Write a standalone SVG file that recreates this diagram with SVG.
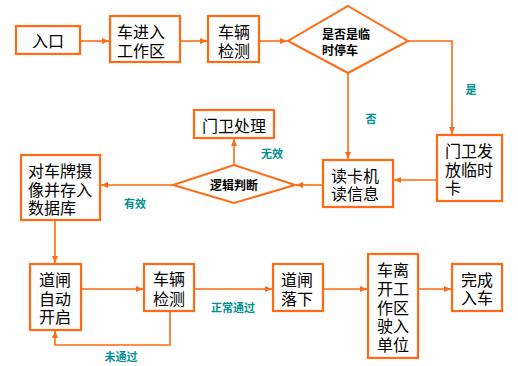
<svg xmlns="http://www.w3.org/2000/svg" width="518" height="366" viewBox="0 0 518 366">
<defs>
<style>
.box{fill:#fff;stroke:#FF6A13;stroke-width:2.2}
.dia{fill:#fff;stroke:#FF6A13;stroke-width:2}
.ln{fill:none;stroke:#FF6A13;stroke-width:1.6}
.t{font-family:"Noto Sans CJK SC","Liberation Sans",sans-serif;font-size:16px;fill:#000;dominant-baseline:central}
.d{font-family:"Noto Sans CJK SC","Liberation Sans",sans-serif;font-size:12px;font-weight:bold;fill:#000;dominant-baseline:central}
.l{font-family:"Noto Sans CJK SC","Liberation Sans",sans-serif;font-size:11px;font-weight:bold;fill:#009090;dominant-baseline:central;text-anchor:middle}
.c{text-anchor:middle}
</style>
<marker id="ah" markerWidth="8" markerHeight="8" refX="7" refY="4" orient="auto" markerUnits="userSpaceOnUse">
<path d="M0,1 L7,4 L0,7 Z" fill="#FF6A13"/>
</marker>
</defs>
<rect width="518" height="366" fill="#fff"/>
<g id="connectors">
<path class="ln" d="M80,41 H109" marker-end="url(#ah)"/>
<path class="ln" d="M180,41 H207" marker-end="url(#ah)"/>
<path class="ln" d="M259,41 H287" marker-end="url(#ah)"/>
<path class="ln" d="M408,41 H452 V134" marker-end="url(#ah)"/>
<path class="ln" d="M348,73 V159" marker-end="url(#ah)"/>
<path class="ln" d="M437,180 H394" marker-end="url(#ah)"/>
<path class="ln" d="M323,185 H296" marker-end="url(#ah)"/>
<path class="ln" d="M234,165 V139" marker-end="url(#ah)"/>
<path class="ln" d="M173,185 H101" marker-end="url(#ah)"/>
<path class="ln" d="M55,220 V263" marker-end="url(#ah)"/>
<path class="ln" d="M81,289 H143" marker-end="url(#ah)"/>
<path class="ln" d="M170,311 V345 H55 V331" marker-end="url(#ah)"/>
<path class="ln" d="M194,289 H272" marker-end="url(#ah)"/>
<path class="ln" d="M323,289 H367" marker-end="url(#ah)"/>
<path class="ln" d="M418,289 H451" marker-end="url(#ah)"/>
<text class="l" x="471" y="89">是</text>
<text class="l" x="371" y="118">否</text>
<text class="l" x="272" y="153">无效</text>
<text class="l" x="135" y="203">有效</text>
<text class="l" x="233" y="307">正常通过</text>
<text class="l" x="121" y="356">未通过</text>
</g>
<g id="n1"><rect class="box" x="16" y="26" width="64" height="28"/><text class="t c" x="48" y="40">入口</text></g>
<g id="n2"><rect class="box" x="110" y="16" width="70" height="46"/><text class="t" x="117" y="31">车进入<tspan x="117" dy="19">工作区</tspan></text></g>
<g id="n3"><rect class="box" x="208" y="16" width="51" height="46"/><text class="t c" x="234" y="31">车辆<tspan x="234" dy="19">检测</tspan></text></g>
<g id="n4"><polygon class="dia" points="348,6 408,41 348,73 288,41"/><text class="d" x="322" y="33">是否是临<tspan x="322" dy="16">时停车</tspan></text></g>
<g id="n5"><rect class="box" x="437" y="135" width="65" height="66"/><text class="t" x="445" y="150">门卫发<tspan x="445" dy="18.5">放临时</tspan><tspan x="445" dy="18.5">卡</tspan></text></g>
<g id="n6"><rect class="box" x="323" y="160" width="70" height="47"/><text class="t" x="331" y="175">读卡机<tspan x="331" dy="18">读信息</tspan></text></g>
<g id="n7"><polygon class="dia" points="234,165 295,185 234,203 173,185"/><text class="d c" x="234" y="184">逻辑判断</text></g>
<g id="n8"><rect class="box" x="194" y="110" width="80" height="28"/><text class="t c" x="234" y="125">门卫处理</text></g>
<g id="n9"><rect class="box" x="21" y="155" width="79" height="65"/><text class="t" x="28" y="170">对车牌摄<tspan x="28" dy="18.5">像并存入</tspan><tspan x="28" dy="18.5">数据库</tspan></text></g>
<g id="n10"><rect class="box" x="30" y="264" width="51" height="66"/><text class="t c" x="55" y="279">道闸<tspan x="55" dy="18.5">自动</tspan><tspan x="55" dy="18.5">开启</tspan></text></g>
<g id="n11"><rect class="box" x="144" y="264" width="50" height="47"/><text class="t c" x="169" y="278">车辆<tspan x="169" dy="20">检测</tspan></text></g>
<g id="n12"><rect class="box" x="273" y="264" width="50" height="47"/><text class="t" x="281" y="279">道闸<tspan x="281" dy="19">落下</tspan></text></g>
<g id="n13"><rect class="box" x="368" y="254" width="50" height="104"/><text class="t c" x="393" y="269">车离<tspan x="393" dy="18.75">开工</tspan><tspan x="393" dy="18.75">作区</tspan><tspan x="393" dy="18.75">驶入</tspan><tspan x="393" dy="18.75">单位</tspan></text></g>
<g id="n14"><rect class="box" x="452" y="264" width="50" height="47"/><text class="t c" x="477" y="279">完成<tspan x="477" dy="18">入车</tspan></text></g>
</svg>
